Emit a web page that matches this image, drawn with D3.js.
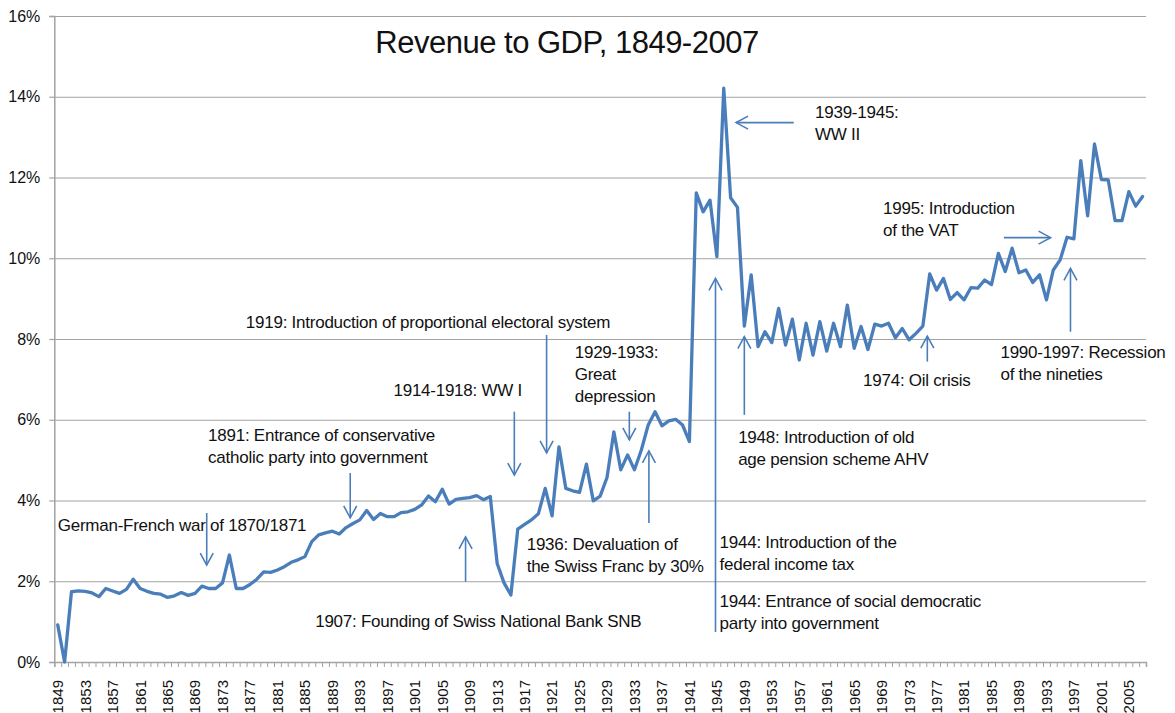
<!DOCTYPE html>
<html>
<head>
<meta charset="utf-8">
<script src="https://cdn.jsdelivr.net/npm/d3@7"></script>
<style>
  html, body { margin: 0; padding: 0; background: #fff; }
  svg { display: block; }
  text { font-family: "Liberation Sans", Arial, sans-serif; }
</style>
</head>
<body>
<script>
// ---------------- DATA ----------------
const firstYear = 1849;
const lastYear = 2007;
const years = d3.range(firstYear, lastYear + 1);

// Revenue to GDP in percent, 1849..2007
const revenuePct = [
  0.92, 0.00, 1.74, 1.76, 1.75, 1.71, 1.62, 1.82, 1.76, 1.70,   // 1849-1858
  1.80, 2.05, 1.82, 1.75, 1.70, 1.68, 1.60, 1.64, 1.72, 1.65,   // 1859-1868
  1.70, 1.88, 1.82, 1.82, 1.96, 2.65, 1.82, 1.82, 1.92, 2.05,   // 1869-1878
  2.23, 2.22, 2.28, 2.36, 2.47, 2.53, 2.61, 2.98, 3.15, 3.20,   // 1879-1888
  3.24, 3.17, 3.33, 3.43, 3.52, 3.75, 3.53, 3.68, 3.60, 3.60,   // 1889-1898
  3.70, 3.72, 3.78, 3.89, 4.11, 3.97, 4.28, 3.91, 4.03, 4.05,   // 1899-1908
  4.07, 4.12, 4.02, 4.10, 2.44, 1.96, 1.66, 3.29, 3.41, 3.52,   // 1909-1918
  3.67, 4.30, 3.62, 5.33, 4.30, 4.24, 4.20, 4.90, 3.99, 4.11,   // 1919-1928
  4.57, 5.70, 4.76, 5.13, 4.76, 5.25, 5.87, 6.20, 5.85, 5.97,   // 1929-1938
  6.01, 5.87, 5.46, 11.62, 11.15, 11.44, 10.04, 14.21, 11.50, 11.26, // 1939-1948
  8.32, 9.59, 7.81, 8.18, 7.91, 8.76, 7.85, 8.49, 7.48, 8.39,   // 1949-1958
  7.60, 8.43, 7.70, 8.39, 7.81, 8.84, 7.77, 8.31, 7.74, 8.37,   // 1959-1968
  8.32, 8.39, 8.03, 8.26, 7.98, 8.14, 8.32, 9.61, 9.21, 9.50,   // 1969-1978
  8.98, 9.15, 8.97, 9.27, 9.26, 9.46, 9.35, 10.12, 9.67, 10.25, // 1979-1988
  9.64, 9.71, 9.40, 9.59, 8.97, 9.71, 9.96, 10.52, 10.48, 12.42, // 1989-1998
  11.05, 12.83, 11.95, 11.94, 10.93, 10.93, 11.65, 11.29, 11.53  // 1999-2007
];

const yTicks = [0, 2, 4, 6, 8, 10, 12, 14, 16];
const xLabelYears = years.filter(y => (y - firstYear) % 4 === 0);

const titleText = "Revenue to GDP, 1849-2007";

// Annotations: text lines anchored at (year, value) of first baseline
const noteTexts = [
  { lines: ["German-French war of 1870/1871"], year: 1849.0, value: 3.24 },
  { lines: ["1891: Entrance of conservative", "catholic party into government"], year: 1870.9, value: 5.48 },
  { lines: ["1907: Founding of Swiss National Bank SNB"], year: 1886.5, value: 0.87 },
  { lines: ["1914-1918: WW I"], year: 1897.9, value: 6.59 },
  { lines: ["1919: Introduction of proportional electoral system"], year: 1876.4, value: 8.27 },
  { lines: ["1929-1933:", "Great", "depression"], year: 1924.3, value: 7.53 },
  { lines: ["1936: Devaluation of", "the Swiss Franc by 30%"], year: 1917.3, value: 2.78 },
  { lines: ["1939-1945:", "WW II"], year: 1959.3, value: 13.47 },
  { lines: ["1944: Introduction of the", "federal income tax"], year: 1945.4, value: 2.82 },
  { lines: ["1944: Entrance of social democratic", "party into government"], year: 1945.4, value: 1.36 },
  { lines: ["1948: Introduction of old", "age pension scheme AHV"], year: 1948.1, value: 5.42 },
  { lines: ["1974: Oil crisis"], year: 1966.3, value: 6.84 },
  { lines: ["1995: Introduction", "of the VAT"], year: 1969.2, value: 11.09 },
  { lines: ["1990-1997: Recession", "of the nineties"], year: 1986.3, value: 7.53 }
];

// Arrows: from (year1,value1) to head at (year2,value2)
const noteArrows = [
  { from: [1870.7, 3.69], to: [1870.7, 2.40] },
  { from: [1891.6, 4.68], to: [1891.6, 3.57] },
  { from: [1908.4, 1.99], to: [1908.4, 3.10] },
  { from: [1915.5, 6.20], to: [1915.5, 4.63] },
  { from: [1920.2, 8.10], to: [1920.2, 5.18] },
  { from: [1932.25, 6.20], to: [1932.25, 5.50] },
  { from: [1935.1, 3.44], to: [1935.1, 5.23] },
  { from: [1956.2, 13.36], to: [1947.8, 13.36] },
  { from: [1944.8, 0.74], to: [1944.8, 9.50] },
  { from: [1949.0, 6.12], to: [1949.0, 8.06] },
  { from: [1975.65, 7.44], to: [1975.65, 8.07] },
  { from: [1986.8, 10.51], to: [1993.6, 10.51] },
  { from: [1996.5, 8.18], to: [1996.5, 9.75] }
];

// ---------------- LAYOUT ----------------
const W = 1175, H = 713;
const plotLeft = 54.3, plotRight = 1146, plotTop = 16, plotBottom = 662;
const lineColor = "#4a7ebb";
const gridColor = "#a3a3a3";
const textColor = "#111";

const svg = d3.select("body").append("svg")
  .attr("width", W).attr("height", H)
  .style("background", "#fff");

const x = d3.scaleBand().domain(years).range([plotLeft, plotRight]).padding(0);
const xc = yr => x(yr) + x.bandwidth() / 2;
const xLin = d3.scaleLinear().domain([firstYear, lastYear]).range([xc(firstYear), xc(lastYear)]);
const xEdge = d3.scaleLinear().domain([firstYear - 0.5, lastYear + 0.5]).range([plotLeft, plotRight]);
const y = d3.scaleLinear().domain([0, 16]).range([plotBottom, plotTop]);

// Gridlines
const grid = svg.append("g")
  .attr("transform", `translate(${plotLeft},0)`)
  .call(d3.axisLeft(y).tickValues(yTicks).tickSize(-(plotRight - plotLeft)).tickFormat(""));
grid.select(".domain").remove();
grid.selectAll("line").attr("stroke", gridColor).attr("stroke-width", 1.2);

// Y axis
const yAxis = svg.append("g")
  .attr("transform", `translate(${plotLeft},0)`)
  .call(d3.axisLeft(y).tickValues(yTicks).tickSize(5).tickPadding(9).tickFormat(d => d + "%"));
yAxis.select(".domain").attr("stroke", gridColor).attr("stroke-width", 1.5);
yAxis.selectAll("line").attr("stroke", gridColor).attr("stroke-width", 1.2);
yAxis.selectAll("text").attr("font-size", 16).attr("fill", textColor)
  .attr("font-family", "'Liberation Sans', Arial, sans-serif");

// X axis minor ticks
const xTicks = svg.append("g")
  .attr("transform", `translate(0,${plotBottom})`)
  .call(d3.axisBottom(xEdge).tickValues(d3.range(firstYear - 0.5, lastYear + 1, 1)).tickSize(5).tickFormat(""));
xTicks.select(".domain").attr("stroke", gridColor).attr("stroke-width", 1.5);
xTicks.selectAll("line").attr("stroke", gridColor).attr("stroke-width", 1);

// X axis labels
const xAxis = svg.append("g")
  .attr("transform", `translate(0,${plotBottom})`)
  .call(d3.axisBottom(x).tickValues(xLabelYears).tickSize(0));
xAxis.select(".domain").remove();
xAxis.selectAll("text")
  .attr("font-size", 15)
  .attr("fill", textColor)
  .attr("font-family", "'Liberation Sans', Arial, sans-serif")
  .attr("transform", "rotate(-90)")
  .attr("x", -18).attr("y", 0).attr("dy", "0.36em")
  .style("text-anchor", "end");

// Line
const lineGen = d3.line().x((d, i) => xc(years[i])).y(d => y(d)).curve(d3.curveLinear);
svg.append("path")
  .datum(revenuePct)
  .attr("d", lineGen)
  .attr("fill", "none")
  .attr("stroke", lineColor)
  .attr("stroke-width", 3.3)
  .attr("stroke-linejoin", "round")
  .attr("stroke-linecap", "round");

// Title
svg.append("text")
  .attr("x", 567).attr("y", 53)
  .attr("text-anchor", "middle")
  .attr("font-size", 31)
  .attr("letter-spacing", -0.5)
  .attr("fill", textColor)
  .text(titleText);

// Annotation texts
const notes = svg.append("g").attr("fill", textColor).attr("font-size", 17).attr("letter-spacing", -0.25);
noteTexts.forEach(n => {
  const t = notes.append("text").attr("x", xLin(n.year)).attr("y", y(n.value));
  n.lines.forEach((ln, i) => {
    t.append("tspan").attr("x", xLin(n.year)).attr("dy", i === 0 ? 0 : 22).text(ln);
  });
});

// Arrows
const arrows = svg.append("g").attr("stroke", lineColor).attr("stroke-width", 1.6).attr("fill", "none");
noteArrows.forEach(a => {
  const x1 = xLin(a.from[0]), y1 = y(a.from[1]);
  const x2 = xLin(a.to[0]), y2 = y(a.to[1]);
  arrows.append("line").attr("x1", x1).attr("y1", y1).attr("x2", x2).attr("y2", y2);
  const ang = Math.atan2(y2 - y1, x2 - x1);
  const L = 12, Wd = 6.5;
  const bx = x2 - L * Math.cos(ang), by = y2 - L * Math.sin(ang);
  const px = -Math.sin(ang) * Wd, py = Math.cos(ang) * Wd;
  const p = d3.path();
  p.moveTo(bx + px, by + py);
  p.lineTo(x2, y2);
  p.lineTo(bx - px, by - py);
  arrows.append("path").attr("d", p.toString());
});
</script>
</body>
</html>
